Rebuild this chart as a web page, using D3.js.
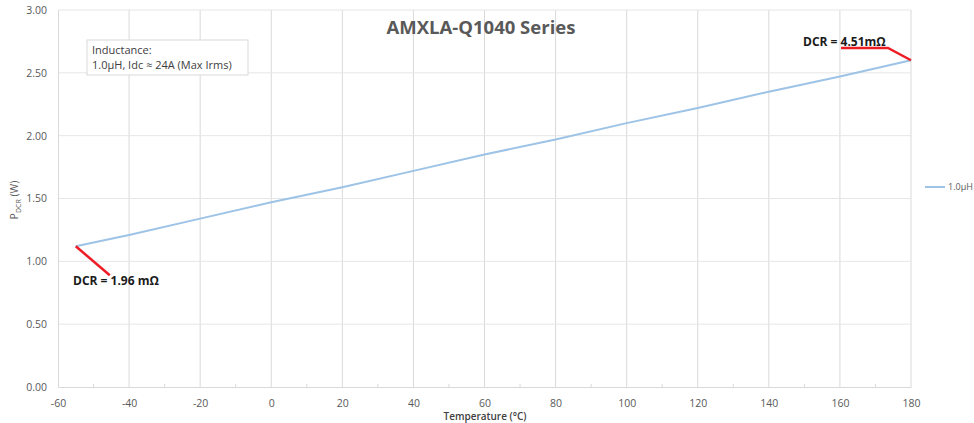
<!DOCTYPE html>
<html lang="en">
<head>
    <meta charset="utf-8">
    <script src="https://d3js.org/d3.v7.min.js"></script>
    <style>
        body { margin: 0; background: #fff; }
        svg { font-family: "Open Sans", sans-serif; }
    </style>
</head>
<body>
    <div id="chart"></div>
    <script>
        // data
        const temps = [-55, -40, -20, 0, 20, 40, 60, 80, 100, 120, 140, 160, 180];
        const power = [1.12, 1.21, 1.34, 1.47, 1.59, 1.72, 1.85, 1.97, 2.10, 2.22, 2.35, 2.47, 2.60];
        const xTicks = [-60, -40, -20, 0, 20, 40, 60, 80, 100, 120, 140, 160, 180];
        const yTicks = [0, 0.5, 1.0, 1.5, 2.0, 2.5, 3.0];
        const seriesName = "1.0\u00b5H";
        const dcrLow = "DCR = 1.96 m\u03a9";
        const dcrHigh = "DCR = 4.51m\u03a9";

        const width = 974, height = 423;
        const svg = d3.select("#chart").append("svg")
            .attr("width", width)
            .attr("height", height);

        const x = d3.scaleLinear().domain([-60, 180]).range([58, 911]);
        const y = d3.scaleLinear().domain([0, 3]).range([387, 10]);

        // grid lines
        svg.append("g").selectAll("line")
            .data(xTicks.slice(1))
            .enter().append("line")
            .attr("x1", d => x(d)).attr("x2", d => x(d))
            .attr("y1", y(0)).attr("y2", y(3))
            .attr("stroke", "#d9d9d9");
        svg.append("g").selectAll("line")
            .data(yTicks.slice(1))
            .enter().append("line")
            .attr("x1", x(-60)).attr("x2", x(180))
            .attr("y1", d => y(d)).attr("y2", d => y(d))
            .attr("stroke", "#e6e6e6");

        // x axis
        const xAxis = svg.append("g")
            .attr("transform", "translate(0," + y(0) + ")")
            .call(d3.axisBottom(x).tickValues(xTicks).tickSize(0).tickPadding(13).tickFormat(d => String(d)));
        xAxis.select(".domain").attr("stroke", "#d9d9d9");
        xAxis.selectAll("text").attr("fill", "#595959").style("font-size", "10.5px").style("font-family", "Open Sans");
        // minor ticks
        svg.append("g").selectAll("line")
            .data(d3.range(-50, 180, 20))
            .enter().append("line")
            .attr("x1", d => x(d)).attr("x2", d => x(d))
            .attr("y1", y(0)).attr("y2", y(0) - 3)
            .attr("stroke", "#d9d9d9");

        // y axis
        const yAxis = svg.append("g")
            .attr("transform", "translate(" + x(-60) + ",0)")
            .call(d3.axisLeft(y).tickValues(yTicks).tickSize(0).tickPadding(11).tickFormat(d3.format(".2f")));
        yAxis.select(".domain").attr("stroke", "#d9d9d9");
        yAxis.selectAll("text").attr("fill", "#595959").style("font-size", "10.5px").style("font-family", "Open Sans");

        // series line
        const pts = temps.map((t, i) => ({ t: t, p: power[i] }));
        svg.append("path")
            .datum(pts)
            .attr("fill", "none")
            .attr("stroke", "#9dc3e6")
            .attr("stroke-width", 2)
            .attr("d", d3.line().x(d => x(d.t)).y(d => y(d.p)));

        // title
        svg.append("text")
            .attr("x", 481).attr("y", 34)
            .attr("text-anchor", "middle")
            .attr("fill", "#595959")
            .style("font-size", "18.5px").style("font-weight", "bold")
            .text("AMXLA-Q1040 Series");

        // inductance box
        svg.append("rect")
            .attr("x", 87).attr("y", 40).attr("width", 161).attr("height", 35)
            .attr("fill", "#fff").attr("stroke", "#d9d9d9");
        svg.append("text").attr("x", 92).attr("y", 54)
            .attr("fill", "#404040").style("font-size", "11px")
            .text("Inductance:");
        svg.append("text").attr("x", 92).attr("y", 69)
            .attr("fill", "#404040").style("font-size", "11px")
            .text("1.0\u00b5H, Idc \u2248 24A (Max Irms)");

        // DCR annotations
        const first = pts[0], last = pts[pts.length - 1];
        svg.append("line")
            .attr("x1", x(first.t)).attr("y1", y(first.p))
            .attr("x2", x(first.t) + 34).attr("y2", y(first.p) + 29)
            .attr("stroke", "#ee1c25").attr("stroke-width", 2.5);
        svg.append("text").attr("x", 73).attr("y", 285)
            .attr("fill", "#1a1a1a").style("font-size", "12px").style("font-weight", "bold")
            .text(dcrLow);

        svg.append("polyline")
            .attr("points", [[841, 48], [888, 48], [x(last.t), y(last.p)]].map(p => p.join(",")).join(" "))
            .attr("fill", "none")
            .attr("stroke", "#ee1c25").attr("stroke-width", 2.5);
        svg.append("text").attr("x", 803).attr("y", 46)
            .attr("fill", "#1a1a1a").style("font-size", "12px").style("font-weight", "bold")
            .text(dcrHigh);

        // axis titles
        svg.append("text")
            .attr("x", 485).attr("y", 420)
            .attr("text-anchor", "middle")
            .attr("fill", "#404040")
            .style("font-size", "10px").style("font-weight", "600")
            .text("Temperature (\u00b0C)");

        const yl = svg.append("text")
            .attr("transform", "translate(18,200) rotate(-90)")
            .attr("text-anchor", "middle")
            .attr("fill", "#595959")
            .style("font-size", "10.5px");
        yl.append("tspan").text("P");
        yl.append("tspan").attr("dy", 3).style("font-size", "7px").text("DCR");
        yl.append("tspan").attr("dy", -3).text(" (W)");

        // legend
        svg.append("line")
            .attr("x1", 925).attr("x2", 945).attr("y1", 187).attr("y2", 187)
            .attr("stroke", "#9dc3e6").attr("stroke-width", 2);
        svg.append("text").attr("x", 948).attr("y", 190)
            .attr("fill", "#595959").style("font-size", "9px")
            .text(seriesName);
    </script>
</body>
</html>
